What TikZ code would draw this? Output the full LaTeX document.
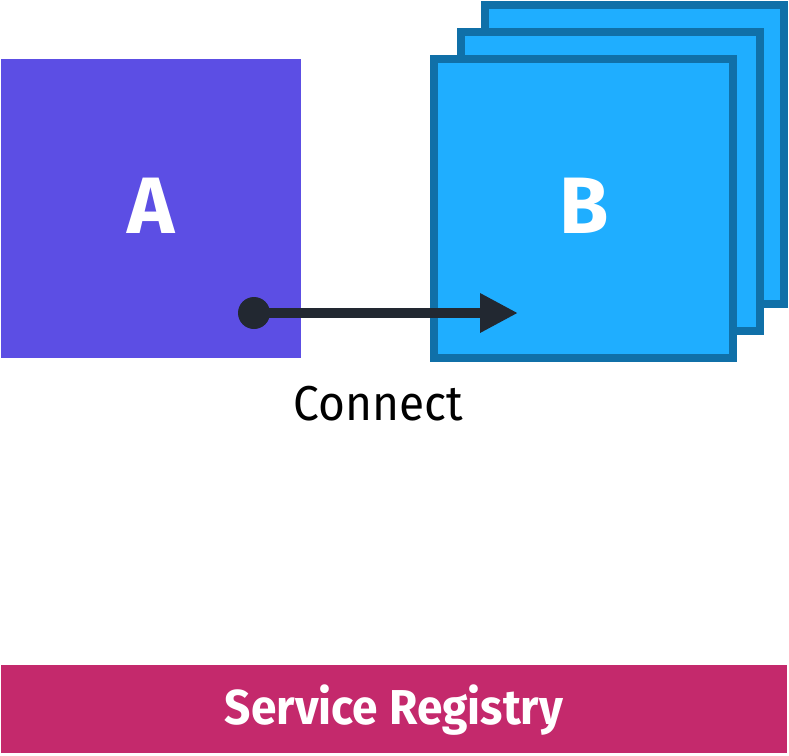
\documentclass[tikz,border=0pt]{standalone}
\usepackage{fontspec}
\setmainfont{Fira Sans}
\usepackage{graphicx}
\usetikzlibrary{arrows.meta}
\definecolor{apurple}{HTML}{5C4EE4}
\definecolor{bfill}{HTML}{1FAEFF}
\definecolor{bline}{HTML}{1070A8}
\definecolor{arrowc}{HTML}{222831}
\definecolor{regc}{HTML}{C4296C}
\tikzset{
  abox/.style={rectangle, fill=apurple, draw=none, minimum width=300pt, minimum height=299pt, inner sep=0pt},
  bbox/.style={rectangle, fill=bfill, draw=bline, line width=8pt, minimum width=299pt, minimum height=299pt, inner sep=0pt},
  boxlabel/.style={text=white, font=\bfseries\fontsize{80}{80}\selectfont, inner sep=0pt, anchor=base},
  conn/.style={draw=arrowc, line width=10pt, -{Triangle[length=38pt,width=37pt]}},
  bar/.style={rectangle, fill=regc, draw=none, minimum width=786pt, minimum height=88pt, inner sep=0pt},
  bartext/.style={text=white, font=\bfseries\fontsize{49}{49}\selectfont, inner sep=0pt, anchor=base},
  plaintext/.style={text=black, font=\fontsize{49}{49}\selectfont, inner sep=0pt, anchor=base}
}
\begin{document}
\begin{tikzpicture}[x=1pt,y=-1pt]
\useasboundingbox (0,0) rectangle (789,755);
\node[abox] (A) at (151,208.5) {};
\node[boxlabel] (Alab) at (151,233) {A};
\node[bbox] (B3) at (634,154.5) {};
\node[bbox] (B2) at (610,181) {};
\node[bbox] (B1) at (583.5,208.5) {};
\node[boxlabel] (Blab) at (584,233) {B};
\coordinate (s) at (254,313);
\coordinate (t) at (518,313);
\draw[conn] (s) -- (t);
\fill[arrowc] (s) circle (16);
\node[plaintext] (C) at (378.5,420) {\scalebox{0.94}[1]{Connect}};
\node[bar] (R) at (394,709) {};
\node[bartext] (Rlab) at (394,724) {\scalebox{0.94}[1]{Service Registry}};
\end{tikzpicture}
\end{document}
